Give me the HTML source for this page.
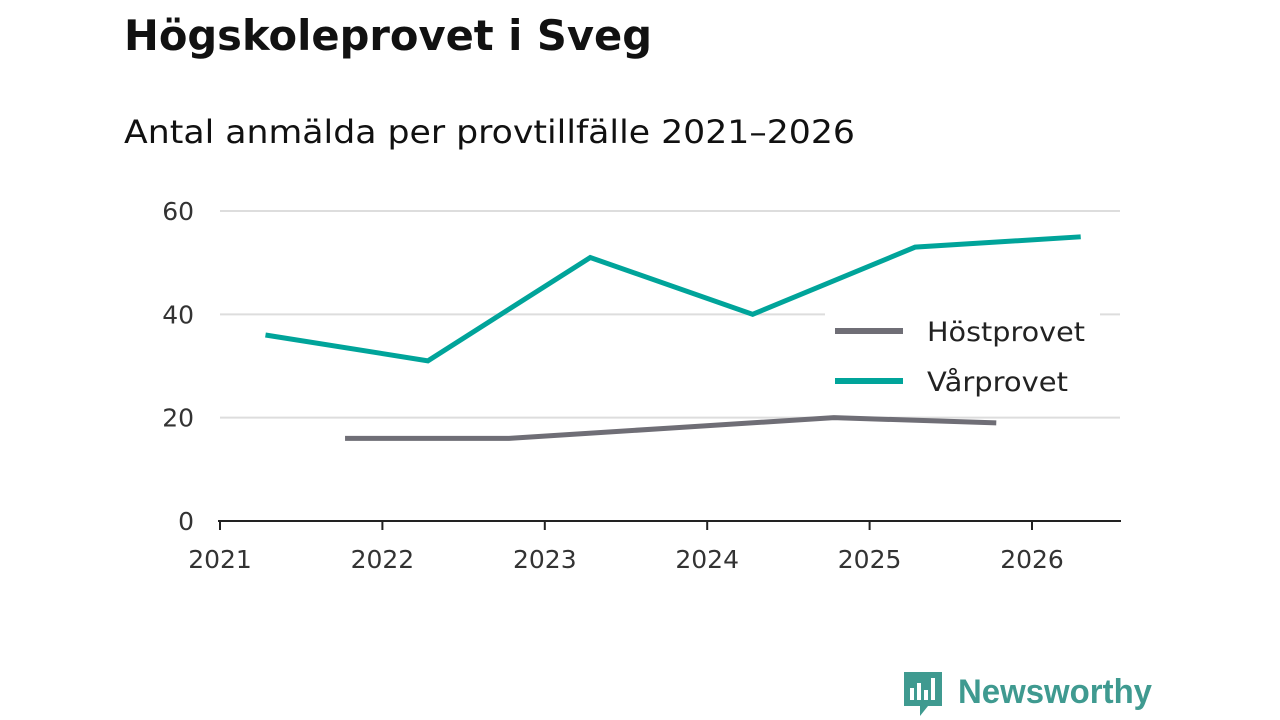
<!DOCTYPE html>
<html><head><meta charset="utf-8"><style>
body{margin:0;width:1280px;height:720px;background:#fff;overflow:hidden;font-family:"DejaVu Sans","Liberation Sans",sans-serif;}
svg{position:absolute;left:0;top:0}
</style></head><body>
<svg width="1280" height="720" id="chart">
<text x="124" y="50" font-size="42" font-weight="bold" fill="#111" textLength="528" lengthAdjust="spacingAndGlyphs">Högskoleprovet i Sveg</text>
<text x="124" y="143" font-size="32" fill="#111" textLength="731" lengthAdjust="spacingAndGlyphs">Antal anmälda per provtillfälle 2021–2026</text>
<g id="grid"></g><g id="axes"></g><g id="lines"></g>
<g>
<rect x="825" y="310" width="275" height="92" fill="#fff"/>
<line x1="835" y1="331" x2="903" y2="331" stroke="#6f6e76" stroke-width="6"/>
<text x="927" y="341" font-size="27" fill="#222" textLength="158" lengthAdjust="spacingAndGlyphs">Höstprovet</text>
<line x1="835" y1="381" x2="903" y2="381" stroke="#00a49a" stroke-width="6"/>
<text x="927" y="391" font-size="27" fill="#222" textLength="141" lengthAdjust="spacingAndGlyphs">Vårprovet</text>
</g>
<g>
<path d="M904 672 h38 v34 h-14 l-8 10 v-10 h-16 z" fill="#3f9a90"/>
<rect x="910" y="688" width="4" height="12" fill="#fff"/><rect x="917" y="683" width="4" height="17" fill="#fff"/><rect x="924" y="690" width="4" height="10" fill="#fff"/><rect x="931" y="678" width="4" height="22" fill="#fff"/>
<text x="958" y="703" font-size="34" font-weight="bold" fill="#3f9a90" font-family="Liberation Sans, sans-serif" textLength="194" lengthAdjust="spacingAndGlyphs">Newsworthy</text>
</g>
</svg>
<script>
const years=[2021,2022,2023,2024,2025,2026];
const yTicks=[0,20,40,60];
const varX=[2021.28,2022.28,2023.28,2024.28,2025.28,2026.3];
const varY=[36,31,51,40,53,55];
const hostX=[2021.77,2022.78,2023.78,2024.78,2025.78];
const hostY=[16,16,18,20,19];
const NS="http://www.w3.org/2000/svg";
const sx=v=>220+(v-2021)*162.4;
const sy=v=>521-v*5.167;
function mk(t,a,p){const e=document.createElementNS(NS,t);for(const k in a)e.setAttribute(k,a[k]);p.appendChild(e);return e;}
const grid=document.getElementById('grid'),axes=document.getElementById('axes'),lines=document.getElementById('lines');
yTicks.forEach(v=>{
 if(v>0){const g=mk('line',{x1:220,x2:1120,y1:sy(v),y2:sy(v),stroke:'#ddd','stroke-width':2},grid);
 
 }
 const t=mk('text',{x:194,y:sy(v)+9,'font-size':25,fill:'#333','text-anchor':'end'},axes);t.textContent=v;
 
 
});
const ax=mk('line',{x1:218,x2:1121,y1:521,y2:521,stroke:'#222','stroke-width':2},axes);


years.forEach(y=>{
 const tk=mk('line',{x1:sx(y),x2:sx(y),y1:521,y2:530,stroke:'#222','stroke-width':2},axes);
 
 
 const t=mk('text',{x:sx(y),y:568,'font-size':25,fill:'#333','text-anchor':'middle'},axes);t.textContent=y;
 
 
});
function line(xs,ys,c,n){const p=mk('polyline',{points:xs.map((x,i)=>sx(x)+','+sy(ys[i])).join(' '),fill:'none',stroke:c,'stroke-width':5,'stroke-linejoin':'miter'},lines);
 
 }
line(hostX,hostY,'#6f6e76','line-hostprovet');
line(varX,varY,'#00a49a','line-varprovet');
</script>
</body></html>
